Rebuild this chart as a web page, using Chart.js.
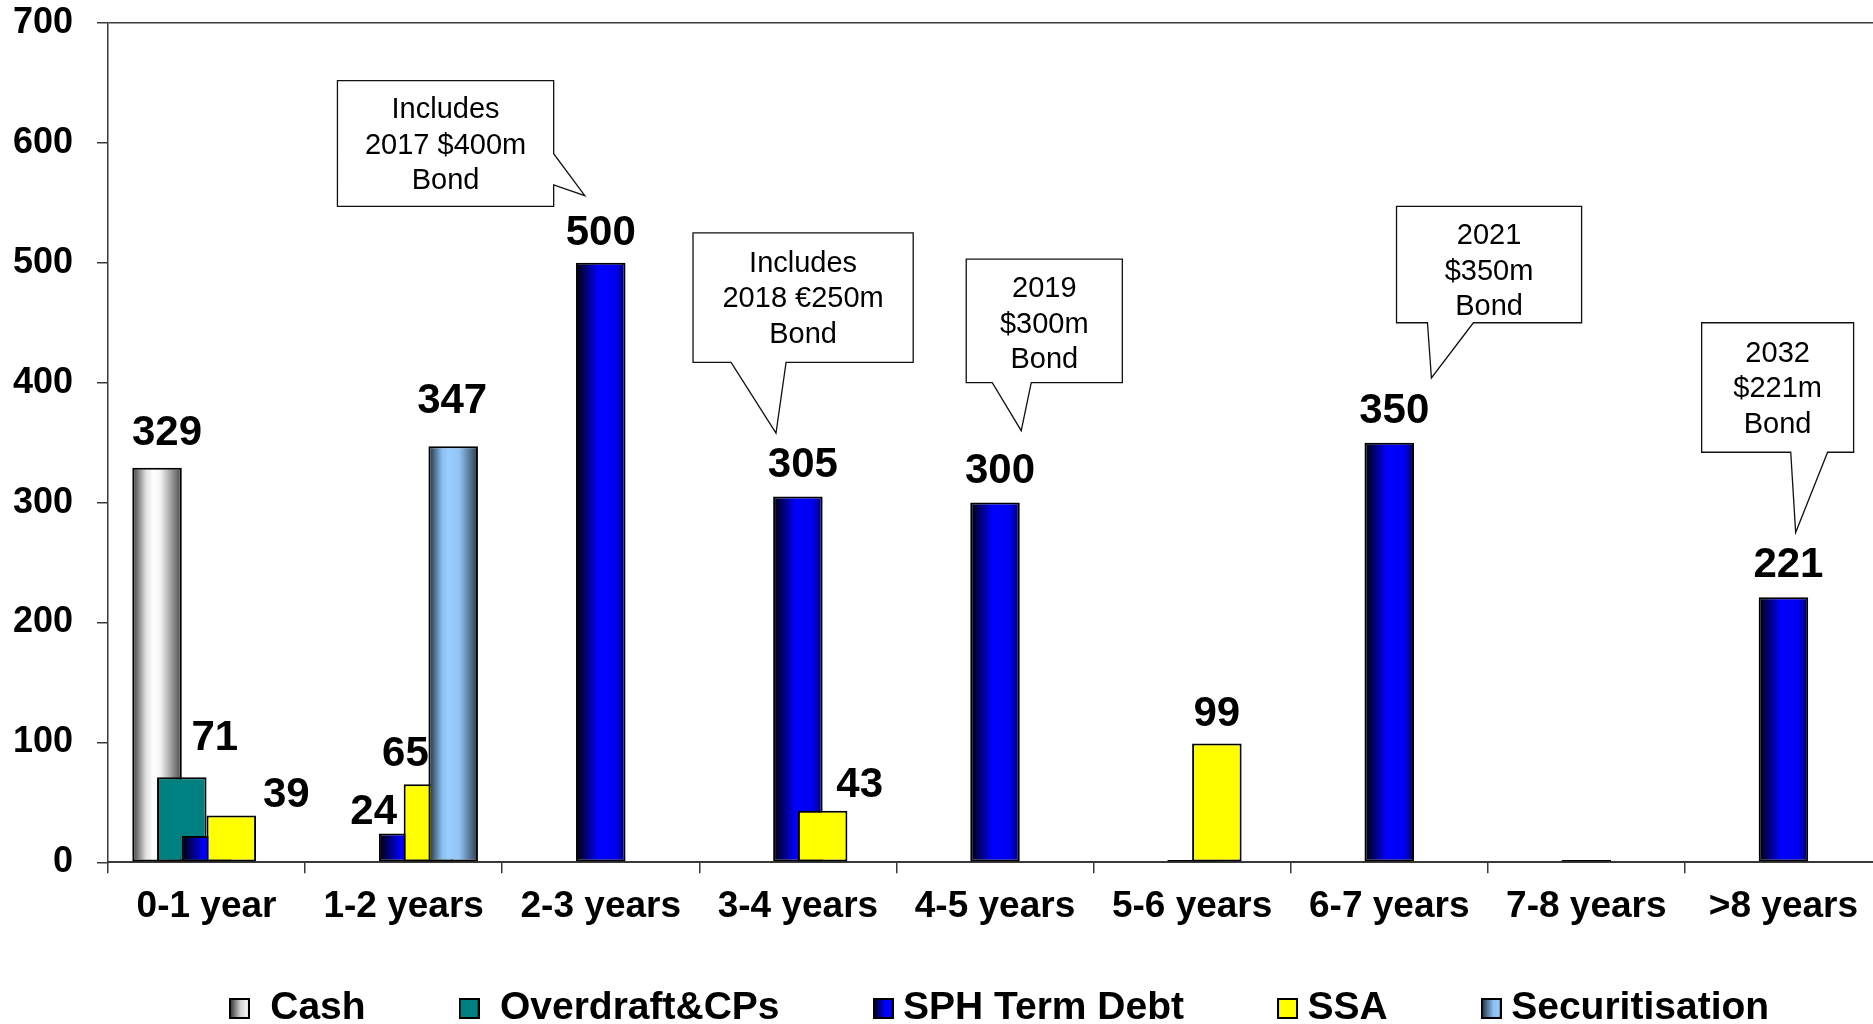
<!DOCTYPE html>
<html>
<head>
<meta charset="utf-8">
<script src="https://cdn.jsdelivr.net/npm/chart.js@4.4.1/dist/chart.umd.min.js"></script>
<style>
html,body{margin:0;padding:0;background:#fff;overflow:hidden;width:1873px;height:1024px}
#wrap{position:absolute;left:0;top:0;width:1882px;height:1024px}
</style>
</head>
<body>
<div id="wrap"><canvas id="c" width="1882" height="1024"></canvas></div>
<script>
// ---------------- data ----------------
const categories = ['0-1 year','1-2 years','2-3 years','3-4 years','4-5 years','5-6 years','6-7 years','7-8 years','>8 years'];
const seriesNames = ['Cash','Overdraft&CPs','SPH Term Debt','SSA','Securitisation'];
const cash           = [329, null, null, null, null, null, null, null, null];
const overdraftCPs   = [71,  null, null, null, null, null, null, null, null];
const sphTermDebt    = [22,  24,   500,  305,  300,  2,    350,  2,    221];
const ssa            = [39,  65,   null, 43,   null, 99,   null, null, null];
const securitisation = [null, 347, null, null, null, null, null, null, null];
const yTickValues = [0, 100, 200, 300, 400, 500, 600, 700];

// callout annotations (x in category units, y in value units)
const calloutTexts = [
  ['Includes', '2017 $400m', 'Bond'],
  ['Includes', '2018 €250m', 'Bond'],
  ['2019', '$300m', 'Bond'],
  ['2021', '$350m', 'Bond'],
  ['2032', '$221m', 'Bond']
];
const calloutGeometry = [
  {box: [0.664, 1.761, 652, 547], side: 'right',  base: [591, 565],     tip: [1.919, 556], textDy: 2.5},
  {box: [2.468, 3.585, 525, 417], side: 'bottom', base: [2.661, 2.940], tip: [2.889, 358], textDy: 1.5},
  {box: [3.854, 4.646, 503, 400], side: 'bottom', base: [3.986, 4.184], tip: [4.133, 360], textDy: 4},
  {box: [6.037, 6.976, 547, 450], side: 'bottom', base: [6.194, 6.427], tip: [6.214, 404], textDy: 7},
  {box: [7.585, 8.356, 450, 342], side: 'bottom', base: [8.037, 8.224], tip: [8.062, 275], textDy: 2}
];

// ---------------- styles ----------------
const FONT = "'Liberation Sans', Arial, Helvetica, sans-serif";
const seriesFill = [
  {grad: [[0,'#3a3a3a'],[0.28,'#e2e2e2'],[0.42,'#ffffff'],[0.56,'#f6f6f6'],[0.8,'#999999'],[1,'#454545']]},
  {solid: '#008080'},
  {grad: [[0,'#000006'],[0.45,'#0000ff'],[0.8,'#0000f0'],[1,'#00005a']]},
  {solid: '#ffff00'},
  {grad: [[0,'#1c2b3b'],[0.28,'#8cbff2'],[0.4,'#99ccff'],[0.62,'#93c4f5'],[0.82,'#5e7e9e'],[1,'#293a4c']]}
];
const legendFill = [
  [[0,'#2e2e2e'],[0.55,'#d0d0d0'],[1,'#ffffff']],
  [[0,'#008080'],[1,'#008080']],
  [[0,'#000010'],[0.6,'#0000ff'],[1,'#0000ff']],
  [[0,'#ffff00'],[1,'#ffff00']],
  [[0,'#1c2b3b'],[0.6,'#8cbff2'],[1,'#99ccff']]
];
const legendPrefix = [' ', ' ', '', '', ''];
const AXIS_COLOR = '#3a3a3a';
const LEGEND_TOP = 886;
const LEGEND_SHIFT_X = 9;
const DEFAULT_LABEL = [5, 20];  // [dx, gap above bar top]
const labelTweaks = {
  '0,0': [10, 23], '1,0': [33, 27], '3,0': [55, 9],
  '2,1': [-30, 10], '3,1': [-23, 18], '4,1': [-1, 33],
  '2,2': [0, 18], '3,3': [37, 14], '3,5': [0, 18]
};
const unlabelled = {'2,0': true, '2,5': true, '2,7': true};

function makeLegendIcon(stops) {
  const c = document.createElement('canvas');
  c.width = 21; c.height = 21;
  const g2 = c.getContext('2d');
  const g = g2.createLinearGradient(1, 0, 20, 0);
  stops.forEach(([o, col]) => g.addColorStop(o, col));
  g2.fillStyle = g;
  g2.fillRect(1, 1, 19, 19);
  g2.lineWidth = 2;
  g2.strokeStyle = '#000';
  g2.strokeRect(1, 1, 19, 19);
  return c;
}
const legendIcons = legendFill.map(makeLegendIcon);

const seriesData = [cash, overdraftCPs, sphTermDebt, ssa, securitisation];

const barOrderAndFill = {
  id: 'barOrderAndFill',
  beforeDatasetsDraw(chart) {
    const ctx = chart.ctx;
    const metas = chart.getSortedVisibleDatasetMetas().slice().sort((a, b) => a.index - b.index);
    metas.forEach(meta => {
      const spec = seriesFill[meta.index];
      if (spec.grad) {
        meta.data.forEach(el => {
          if (!el || !isFinite(el.x) || !isFinite(el.width)) return;
          const g = ctx.createLinearGradient(el.x - el.width / 2, 0, el.x + el.width / 2, 0);
          spec.grad.forEach(([o, col]) => g.addColorStop(o, col));
          el.options = Object.assign({}, el.options, {backgroundColor: g});
        });
      }
      ctx.save();
      meta.controller.draw();
      ctx.restore();
    });
    return false;
  }
};

const annotations = {
  id: 'annotations',
  afterLayout(chart) {
    const L = chart.legend;
    L.top = LEGEND_TOP;
    L.bottom = chart.height;
    L.height = L.bottom - L.top;
    L.left += LEGEND_SHIFT_X; L.right += LEGEND_SHIFT_X;
  },
  afterDraw(chart) {
    const ctx = chart.ctx;
    const xs = chart.scales.x, ys = chart.scales.y;
    // value labels
    ctx.save();
    ctx.font = 'bold 42px ' + FONT;
    ctx.fillStyle = '#000';
    ctx.textAlign = 'center';
    ctx.textBaseline = 'alphabetic';
    chart.data.datasets.forEach((ds, si) => {
      const meta = chart.getDatasetMeta(si);
      ds.data.forEach((v, ci) => {
        if (v === null || unlabelled[si + ',' + ci]) return;
        const el = meta.data[ci];
        const [dx, gap] = labelTweaks[si + ',' + ci] || DEFAULT_LABEL;
        ctx.fillText(String(v), el.x + dx, el.y - gap);
      });
    });
    ctx.restore();
    // callouts
    ctx.save();
    calloutGeometry.forEach((cg, k) => {
      const x0 = xs.getPixelForValue(cg.box[0]), x1 = xs.getPixelForValue(cg.box[1]);
      const y0 = ys.getPixelForValue(cg.box[2]), y1 = ys.getPixelForValue(cg.box[3]);
      const tx = xs.getPixelForValue(cg.tip[0]), ty = ys.getPixelForValue(cg.tip[1]);
      ctx.beginPath();
      ctx.moveTo(x0, y0);
      ctx.lineTo(x1, y0);
      if (cg.side === 'right') {
        const b0 = ys.getPixelForValue(cg.base[0]), b1 = ys.getPixelForValue(cg.base[1]);
        ctx.lineTo(x1, b0); ctx.lineTo(tx, ty); ctx.lineTo(x1, b1);
        ctx.lineTo(x1, y1);
        ctx.lineTo(x0, y1);
      } else {
        const b0 = xs.getPixelForValue(cg.base[0]), b1 = xs.getPixelForValue(cg.base[1]);
        ctx.lineTo(x1, y1);
        ctx.lineTo(b1, y1); ctx.lineTo(tx, ty); ctx.lineTo(b0, y1);
        ctx.lineTo(x0, y1);
      }
      ctx.closePath();
      ctx.fillStyle = '#fff';
      ctx.fill();
      ctx.lineWidth = 1.3;
      ctx.strokeStyle = '#111';
      ctx.stroke();
      const lines = calloutTexts[k];
      ctx.font = '29px ' + FONT;
      ctx.fillStyle = '#000';
      ctx.textAlign = 'center';
      ctx.textBaseline = 'middle';
      const cx = (x0 + x1) / 2, cy = (y0 + y1) / 2 + cg.textDy, lh = 35.5;
      lines.forEach((t, i) => ctx.fillText(t, cx, cy + (i - (lines.length - 1) / 2) * lh));
    });
    ctx.restore();
  }
};

Chart.defaults.font.family = FONT;
Chart.defaults.color = '#000';

new Chart(document.getElementById('c'), {
  type: 'bar',
  data: {
    labels: categories,
    datasets: seriesNames.map((name, i) => ({
      label: name,
      data: seriesData[i],
      backgroundColor: seriesFill[i].solid || '#888888',
      borderColor: '#000',
      borderWidth: 2,
      borderSkipped: false,
      barPercentage: 2,
      categoryPercentage: 0.628
    }))
  },
  options: {
    responsive: false,
    animation: false,
    devicePixelRatio: 1,
    layout: {padding: {top: 23, left: 0, right: 0, bottom: 0}},
    plugins: {
      tooltip: {enabled: false},
      legend: {
        position: 'bottom',
        fullSize: false,
        maxHeight: 91.7,
        labels: {
          usePointStyle: true,
          boxWidth: 1,
          padding: 103,
          color: '#000',
          font: {size: 39, weight: 'bold'},
          generateLabels: chart => chart.data.datasets.map((ds, i) => ({
            text: legendPrefix[i] + ds.label,
            pointStyle: legendIcons[i],
            fillStyle: '#000',
            strokeStyle: '#000',
            lineWidth: 0,
            hidden: false,
            datasetIndex: i
          }))
        }
      }
    },
    scales: {
      x: {
        offset: true,
        afterFit: s => { s.height = 70; },
        grid: {offset: true, drawOnChartArea: false, drawTicks: true, tickLength: 11, tickColor: AXIS_COLOR, lineWidth: 1.5},
        border: {display: true, color: AXIS_COLOR, width: 2},
        ticks: {font: {size: 37, weight: 'bold'}, color: '#000', padding: 11, maxRotation: 0, autoSkip: false}
      },
      y: {
        min: 0, max: 700,
        afterFit: s => { s.width = 108; s.paddingTop = 0; s.paddingBottom = 0; },
        afterBuildTicks: s => { s.ticks = yTickValues.map(v => ({value: v})); },
        grid: {
          drawOnChartArea: true, drawTicks: true, tickLength: 11, lineWidth: 1.5,
          color: c => (c.tick && c.tick.value === 700) ? AXIS_COLOR : 'rgba(0,0,0,0)',
          tickColor: AXIS_COLOR
        },
        border: {display: true, color: AXIS_COLOR, width: 1.5},
        ticks: {font: {size: 36, weight: 'bold'}, color: '#000', padding: 24}
      }
    }
  },
  plugins: [barOrderAndFill, annotations]
});
</script>
</body>
</html>
